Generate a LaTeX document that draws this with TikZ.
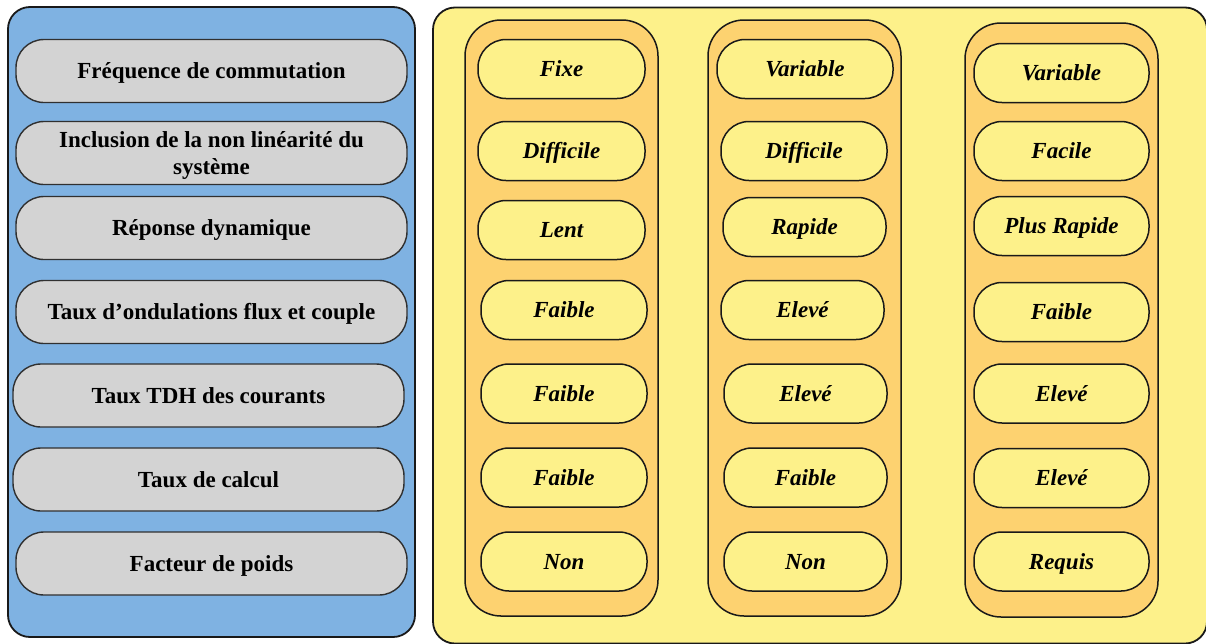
\documentclass[tikz,border=0pt]{standalone}
\usepackage{fontspec}
\usetikzlibrary{calc}
\setmainfont{Liberation Serif}
\definecolor{panelblue}{RGB}{127,178,226}
\definecolor{boxgray}{RGB}{211,211,211}
\definecolor{paneyellow}{RGB}{253,241,138}
\definecolor{colorange}{RGB}{253,210,112}
\definecolor{edgedark}{RGB}{25,25,25}
\begin{document}
\begin{tikzpicture}[x=1pt,y=-1pt,
  panel/.style={draw=edgedark,line width=1.8pt,rounded corners=22pt,inner sep=0pt},
  crit/.style={draw=edgedark!90,line width=1.4pt,fill=boxgray,rounded corners=28pt,inner sep=0pt,
     minimum height=63pt,minimum width=391pt,text height=15.5pt,text depth=0pt,
     font=\fontsize{23}{27}\selectfont\bfseries},
  critbox/.style={draw=edgedark!90,line width=1.4pt,fill=boxgray,rounded corners=28pt,inner sep=0pt,
     minimum height=63pt,minimum width=391pt},
  crittext/.style={inner sep=0pt,align=center,font=\fontsize{23}{27}\selectfont\bfseries},
  colbox/.style={draw=edgedark,line width=1.5pt,fill=colorange,rounded corners=36pt,inner sep=0pt,
     minimum width=193pt},
  val/.style={draw=edgedark,line width=1.5pt,fill=paneyellow,rounded corners=28pt,inner sep=0pt,
     minimum height=59pt,text height=15.5pt,text depth=0pt,
     font=\fontsize{23}{27}\selectfont\bfseries\itshape}]
\useasboundingbox (0,0) rectangle (1206,643);
% left panel
\node[panel,fill=panelblue,minimum width=407pt,minimum height=630pt] (lp) at (211.5,322) {};
\node[crit] (c1) at (211.5,71) {Fréquence de commutation};
\node[critbox] (c2) at (211.5,153) {};
\node[crittext] (c2t) at ($(c2.center)+(0,2.5)$) {Inclusion de la non linéarité du\\système};
\node[crit] (c3) at (211.5,228) {Réponse dynamique};
\node[crit] (c4) at (211.5,312) {Taux d’ondulations flux et couple};
\node[crit] (c5) at (208.5,395.5) {Taux TDH des courants};
\node[crit] (c6) at (208.5,479.5) {Taux de calcul};
\node[crit] (c7) at (211.5,563.5) {Facteur de poids};
% right panel
\node[panel,fill=paneyellow,minimum width=774pt,minimum height=636pt] (rp) at (820,325.5) {};
\node[colbox,minimum height=596pt] (k1) at (561.5,318) {};
\node[colbox,minimum height=596pt] (k2) at (804.5,318) {};
\node[colbox,minimum height=594pt] (k3) at (1061.5,320) {};
% column 1
\node[val,minimum width=167pt] (a1) at (561.5,69) {Fixe};
\node[val,minimum width=167pt] (a2) at (561.5,151) {Difficile};
\node[val,minimum width=167pt] (a3) at (561.5,230) {Lent};
\node[val,minimum width=166pt] (a4) at (564,310) {Faible};
\node[val,minimum width=166pt] (a5) at (564,393.5) {Faible};
\node[val,minimum width=166pt] (a6) at (564,477.5) {Faible};
\node[val,minimum width=166pt] (a7) at (564,561.5) {Non};
% column 2
\node[val,minimum width=176pt] (b1) at (805,69) {Variable};
\node[val,minimum width=166pt] (b2) at (804,151) {Difficile};
\node[val,minimum width=163pt] (b3) at (804.5,227) {Rapide};
\node[val,minimum width=163pt] (b4) at (802.5,310) {Elevé};
\node[val,minimum width=163pt] (b5) at (805.5,393.5) {Elevé};
\node[val,minimum width=163pt] (b6) at (805.5,477.5) {Faible};
\node[val,minimum width=163pt] (b7) at (805.5,561.5) {Non};
% column 3
\node[val,minimum width=175pt] (d1) at (1061.5,73) {Variable};
\node[val,minimum width=175pt] (d2) at (1061.5,151) {Facile};
\node[val,minimum width=175pt] (d3) at (1061.5,226) {Plus Rapide};
\node[val,minimum width=175pt] (d4) at (1061.5,312) {Faible};
\node[val,minimum width=175pt] (d5) at (1061.5,393.5) {Elevé};
\node[val,minimum width=175pt] (d6) at (1061.5,478) {Elevé};
\node[val,minimum width=175pt] (d7) at (1061.5,561.5) {Requis};
\end{tikzpicture}
\end{document}
